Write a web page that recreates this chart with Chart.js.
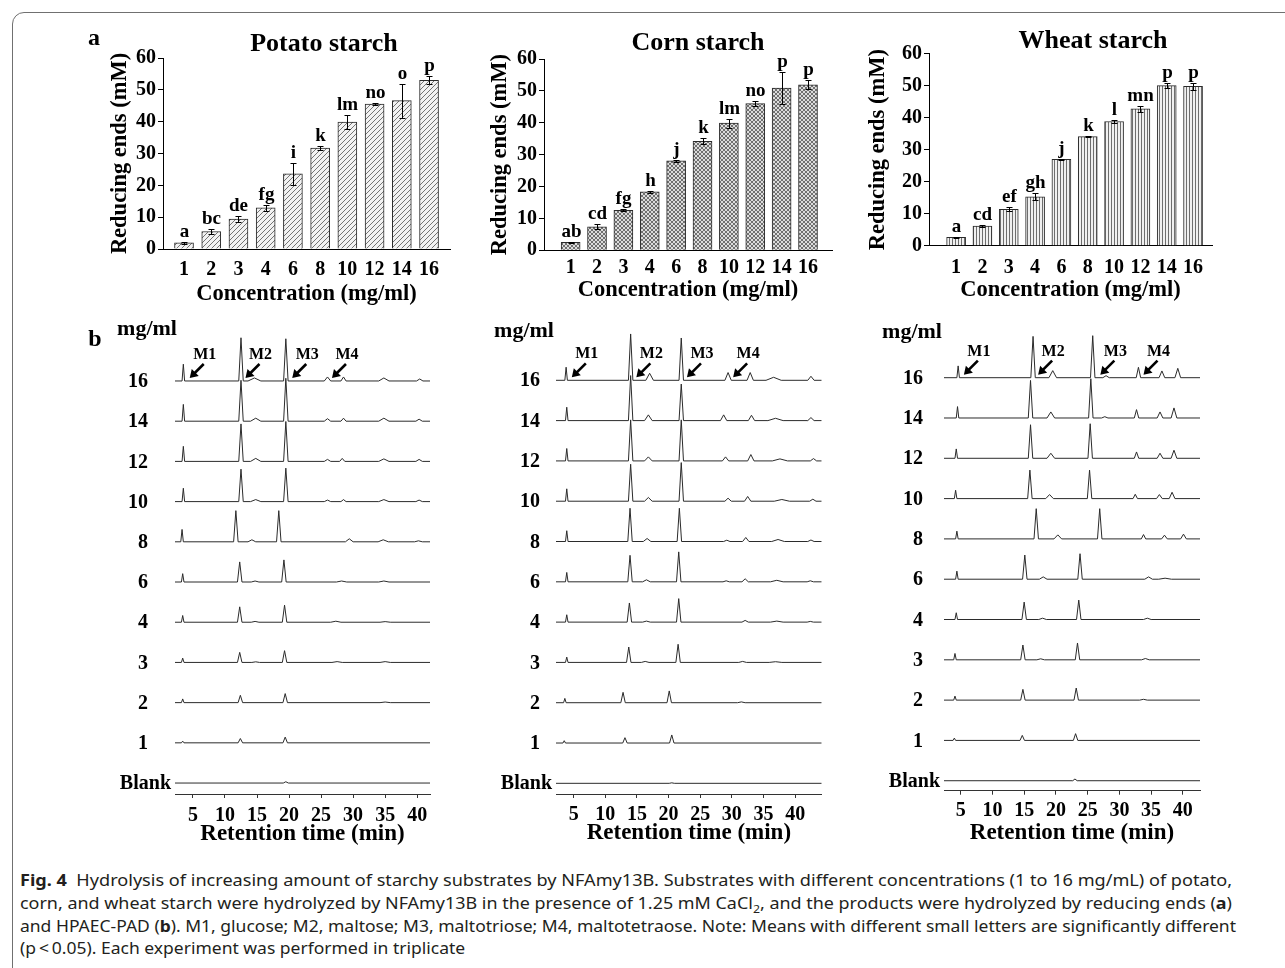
<!DOCTYPE html>
<html>
<head>
<meta charset="utf-8">
<script src="https://cdn.jsdelivr.net/npm/chart.js@4.4.0/dist/chart.umd.min.js"></script>
<style>
body{margin:0;background:#fff;width:1285px;height:968px;overflow:hidden;position:relative;font-family:'Liberation Serif','Times New Roman',serif}
#frame{position:absolute;left:12px;top:12px;width:1300px;height:1000px;border:1px solid #707070;border-top-left-radius:12px}
canvas{position:absolute}
.t{position:absolute;font-weight:bold;color:#000;transform:translate(-50%,-50%);white-space:nowrap;line-height:1}
.cap{position:absolute;left:20px;font-family:'Noto Sans',sans-serif;font-size:16px;line-height:22px;color:#231f20;white-space:nowrap;transform-origin:0 50%}
</style>
</head>
<body>
<div id="frame"></div>

<canvas id="potatoBars" width="380" height="300" style="left:80px;top:20px"></canvas>
<canvas id="cornBars" width="380" height="300" style="left:470px;top:20px"></canvas>
<canvas id="wheatBars" width="380" height="300" style="left:850px;top:20px"></canvas>
<canvas id="potatoHplc" width="370" height="540" style="left:80px;top:316px"></canvas>
<canvas id="cornHplc" width="370" height="540" style="left:470px;top:316px"></canvas>
<canvas id="wheatHplc" width="370" height="540" style="left:860px;top:316px"></canvas>

<div class="t" style="left:94px;top:37px;font-size:24px">a</div>
<div class="t" style="left:95px;top:338px;font-size:24px">b</div>
<div class="t" style="left:324px;top:43px;font-size:26px">Potato starch</div>
<div class="t" style="left:698px;top:42px;font-size:26px">Corn starch</div>
<div class="t" style="left:1093px;top:40px;font-size:26px">Wheat starch</div>
<div class="t" style="left:147px;top:328px;font-size:22px">mg/ml</div>
<div class="t" style="left:524px;top:330px;font-size:22px">mg/ml</div>
<div class="t" style="left:912px;top:331px;font-size:22px">mg/ml</div>

<div class="cap" data-w="1212" style="top:869px"><b>Fig. 4</b>&nbsp; Hydrolysis of increasing amount of starchy substrates by NFAmy13B. Substrates with different concentrations (1 to 16 mg/mL) of potato,</div>
<div class="cap" data-w="1212" style="top:892px">corn, and wheat starch were hydrolyzed by NFAmy13B in the presence of 1.25 mM CaCl<sub style="font-size:11px">2</sub>, and the products were hydrolyzed by reducing ends (<b>a</b>)</div>
<div class="cap" data-w="1216" style="top:915px">and HPAEC-PAD (<b>b</b>). M1, glucose; M2, maltose; M3, maltotriose; M4, maltotetraose. Note: Means with different small letters are significantly different</div>
<div class="cap" style="top:937px">(p&thinsp;&lt;&thinsp;0.05). Each experiment was performed in triplicate</div>

<script>
// bar data (a)
const concLabels = ['1', '2', '3', '4', '6', '8', '10', '12', '14', '16']

const potatoMeans = [1.9, 5.5, 9.4, 12.9, 23.6, 31.7, 39.9, 45.5, 46.6, 53.0]
const potatoErrs = [0.4, 0.9, 1.0, 0.9, 3.5, 0.5, 2.3, 0.4, 5.3, 1.3]
const potatoLetters = ['a', 'bc', 'de', 'fg', 'i', 'k', 'lm', 'no', 'o', 'p']

const cornMeans = [2.5, 7.4, 12.5, 18.3, 28.1, 34.2, 39.9, 46.0, 50.9, 51.9]
const cornErrs = [0.2, 0.8, 0.3, 0.4, 0.3, 1.0, 1.4, 0.7, 5.0, 1.4]
const cornLetters = ['ab', 'cd', 'fg', 'h', 'j', 'k', 'lm', 'no', 'p', 'p']

const wheatMeans = [2.6, 6.1, 11.4, 15.3, 27.0, 34.1, 38.8, 42.8, 50.0, 49.8]
const wheatErrs = [0.2, 0.3, 0.6, 1.1, 0.2, 0.2, 0.5, 1.0, 0.8, 1.2]
const wheatLetters = ['a', 'cd', 'ef', 'gh', 'j', 'k', 'l', 'mn', 'p', 'p']

// chromatograms (b): rows from Blank up to 16, peaks as [time, height, half width]
const rowNames = ['Blank', '1', '2', '3', '4', '6', '8', '10', '12', '14', '16']
const markerNames = ['M1', 'M2', 'M3', 'M4']
const rtTicks = [5, 10, 15, 20, 25, 30, 35, 40]

const potatoPeaks = [
  [[19.5, 1.3, 0.4]],
  [[3.4, 1.7, 0.2], [12.4, 4.3, 0.35], [19.4, 5.7, 0.35]],
  [[3.4, 3.7, 0.2], [12.4, 7.3, 0.35], [19.4, 9, 0.35], [35, 0.6, 0.8]],
  [[3.4, 4.3, 0.2], [12.3, 10, 0.35], [14.8, 0.6, 0.6], [19.3, 11.7, 0.35], [27.5, 0.8, 0.8], [35, 0.8, 0.8]],
  [[3.4, 6.7, 0.2], [12.3, 15.3, 0.35], [14.7, 0.8, 0.6], [19.3, 17, 0.35], [27.3, 1, 0.8], [35, 0.6, 0.8]],
  [[3.4, 8.3, 0.2], [12.3, 20, 0.35], [14.7, 1, 0.6], [19.2, 22, 0.35], [28.2, 1, 0.8], [34.8, 1, 0.8]],
  [[3.3, 12.3, 0.2], [11.7, 31, 0.35], [14.2, 2, 0.6], [18.4, 31, 0.35], [29.4, 3, 0.6], [34.7, 2, 0.8], [40.2, 1, 0.6]],
  [[3.5, 13.3, 0.2], [12.5, 32.3, 0.35], [14.8, 2, 0.8], [19.5, 33.3, 0.35], [26, 1.5, 0.5], [28.5, 2, 0.4], [34.8, 2, 0.8], [40.3, 1.5, 0.5]],
  [[3.5, 15, 0.2], [12.5, 37.3, 0.35], [14.8, 3, 0.8], [19.5, 39.7, 0.35], [26, 2, 0.5], [28.3, 3, 0.4], [34.8, 2.5, 0.8], [40.3, 2, 0.5]],
  [[3.5, 16.7, 0.2], [12.5, 40.7, 0.35], [14.8, 3, 0.8], [19.5, 42.7, 0.35], [26, 2.5, 0.5], [28.5, 3, 0.4], [34.8, 3, 0.8], [40.3, 2, 0.5]],
  [[3.5, 16.7, 0.2], [12.5, 43, 0.35], [14.6, 3, 1.0], [19.5, 42, 0.35], [26, 4, 0.5], [28.5, 4, 0.4], [34.8, 3, 0.8], [40.4, 2, 0.5]]
]

const cornPeaks = [
  [[20.5, 0.5, 0.4]],
  [[3.5, 2.3, 0.2], [13.1, 5.3, 0.35], [20.5, 8, 0.35]],
  [[3.6, 4.3, 0.2], [12.8, 10.3, 0.35], [20.1, 11.7, 0.35], [31.5, 0.8, 0.6]],
  [[3.9, 5.3, 0.2], [13.7, 15.3, 0.35], [16.3, 1, 0.6], [21.5, 18, 0.35], [31.7, 1, 0.6], [36.9, 0.7, 1.0]],
  [[3.9, 7.3, 0.2], [13.8, 19, 0.35], [16.5, 1, 0.6], [21.6, 23.3, 0.35], [32.1, 1.7, 0.5], [37.1, 1, 1.0], [42.4, 0.7, 0.5]],
  [[3.9, 9.3, 0.2], [13.9, 26.3, 0.35], [16.5, 2, 0.6], [21.6, 29.7, 0.35], [29.1, 1, 0.5], [32.1, 3, 0.5], [37.1, 1.5, 1.0], [42.4, 1, 0.5]],
  [[3.9, 10.7, 0.2], [13.9, 33, 0.35], [16.6, 3, 0.6], [21.7, 33, 0.35], [29.2, 1.3, 0.5], [32.2, 4, 0.5], [37.3, 2, 1.0], [42.5, 1.5, 0.5]],
  [[3.9, 12.3, 0.2], [14.0, 36.7, 0.35], [16.8, 3.7, 0.6], [22.0, 38.3, 0.35], [29.4, 3, 0.5], [32.5, 4.7, 0.5], [37.9, 1.7, 1.2], [42.8, 2, 0.5]],
  [[3.9, 12.3, 0.2], [14.0, 40.7, 0.35], [16.8, 4, 0.6], [22.0, 40.7, 0.35], [29.0, 4, 0.5], [33.0, 6.3, 0.5], [37.6, 2, 1.2], [42.9, 2.3, 0.5]],
  [[3.9, 13.3, 0.2], [14.0, 44.7, 0.35], [16.8, 5.7, 0.6], [22.0, 36.3, 0.35], [28.7, 5.7, 0.5], [33.1, 5.3, 0.5], [36.9, 2.3, 1.2], [42.5, 3, 0.5]],
  [[3.8, 13, 0.2], [14.0, 46, 0.35], [17.0, 7, 0.6], [22.0, 42, 0.35], [29.4, 7.7, 0.5], [32.9, 7.7, 0.5], [36.6, 3, 1.2], [42.5, 4, 0.5]]
]

const wheatPeaks = [
  [[23.0, 1.7, 0.35]],
  [[4.0, 2.3, 0.2], [14.7, 5, 0.35], [23.1, 6.7, 0.35]],
  [[4.1, 4, 0.2], [14.8, 10.7, 0.35], [23.2, 12, 0.35], [33.8, 0.8, 0.6]],
  [[4.1, 6.3, 0.2], [14.8, 14.7, 0.35], [17.6, 1, 0.6], [23.4, 16.7, 0.35], [34.1, 1.3, 0.6]],
  [[4.3, 6.7, 0.2], [15.0, 17.3, 0.35], [17.9, 1.3, 0.6], [23.6, 19.3, 0.35], [34.4, 1.3, 0.6]],
  [[4.4, 8, 0.2], [15.1, 24, 0.35], [18.0, 2.3, 0.6], [23.8, 25.3, 0.35], [34.6, 2.3, 0.6], [37.2, 1, 1.0]],
  [[4.4, 7.7, 0.2], [16.9, 30, 0.35], [20.3, 4, 0.6], [26.9, 30, 0.35], [33.8, 4.3, 0.35], [37.1, 3.7, 0.45], [40.1, 4.7, 0.45]],
  [[4.2, 8.3, 0.2], [15.9, 28.3, 0.35], [19.0, 4, 0.6], [25.3, 28.3, 0.35], [32.5, 4.3, 0.35], [36.3, 4, 0.45], [38.3, 6.3, 0.45]],
  [[4.3, 9.3, 0.2], [16.0, 33.3, 0.35], [19.2, 5, 0.6], [25.4, 34.3, 0.35], [32.7, 6.3, 0.35], [36.4, 5, 0.45], [38.6, 8, 0.45]],
  [[4.5, 11.3, 0.2], [16.0, 37.3, 0.35], [19.2, 6, 0.6], [25.5, 39, 0.35], [27.7, 1.3, 0.5], [32.7, 8.3, 0.35], [36.4, 6, 0.45], [38.6, 10, 0.45]],
  [[4.6, 11.7, 0.2], [16.4, 41, 0.35], [19.5, 7, 0.6], [25.8, 41.7, 0.35], [27.9, 2, 0.5], [33.0, 10.3, 0.35], [36.7, 6.7, 0.45], [39.2, 9.3, 0.45]]
]

// where the M1-M4 arrows point (retention time, on the 16 mg/ml trace)
const potatoArrows = [4.5, 13.2, 20.5, 26.7]
const cornArrows = [4.7, 14.9, 22.9, 30.2]
const wheatArrows = [5.5, 17.2, 27.0, 33.8]

const serif = "'Liberation Serif', 'Times New Roman', serif"
const rowStep = 40

// hatch fills
function makePattern(kind) {
  let c = document.createElement('canvas')
  let g = c.getContext('2d')
  if (kind == 'diag') {
    c.width = 5; c.height = 5
    g.fillStyle = '#f2f2f2'; g.fillRect(0, 0, 5, 5)
    g.fillStyle = '#747474'
    for (let i = 0; i < 5; i++) g.fillRect(i, 4 - i, 1, 1)
  } else if (kind == 'cross') {
    c.width = 4; c.height = 4
    g.fillStyle = '#dcdcdc'; g.fillRect(0, 0, 4, 4)
    g.fillStyle = '#707070'
    for (let i = 0; i < 4; i++) { g.fillRect(i, i, 1, 1); g.fillRect(3 - i, i, 1, 1) }
  } else {
    c.width = 3; c.height = 1
    g.fillStyle = '#f0f0f0'; g.fillRect(0, 0, 3, 1)
    g.fillStyle = '#6e6e6e'; g.fillRect(0, 0, 1, 1)
  }
  return document.createElement('canvas').getContext('2d').createPattern(c, 'repeat')
}

// error bars + letters
const barExtras = {
  id: 'barExtras',
  afterDatasetsDraw(chart, args, o) {
    const {ctx, scales: {x, y}} = chart
    ctx.save()
    ctx.strokeStyle = '#000'
    ctx.lineWidth = 1
    ctx.fillStyle = '#000'
    ctx.font = 'bold 19px ' + serif
    ctx.textAlign = 'center'
    ctx.textBaseline = 'alphabetic'
    chart.data.datasets[0].data.forEach((d, i) => {
      let px = Math.round(x.getPixelForValue(d.x)) + 0.5
      let top = Math.round(y.getPixelForValue(d.y + o.errs[i])) + 0.5
      let bot = Math.round(y.getPixelForValue(d.y - o.errs[i])) + 0.5
      ctx.beginPath()
      ctx.moveTo(px, top); ctx.lineTo(px, bot)
      ctx.moveTo(px - 3, top); ctx.lineTo(px + 3, top)
      ctx.moveTo(px - 3, bot); ctx.lineTo(px + 3, bot)
      ctx.stroke()
      ctx.fillText(o.letters[i], px, top - 6)
    })
    ctx.restore()
  }
}

function barChart(id, means, errs, letters, fill, b) {
  new Chart(document.getElementById(id), {
    type: 'bar',
    data: {
      datasets: [{
        data: means.map((v, i) => ({x: i, y: v})),
        backgroundColor: fill,
        borderColor: '#2a2a2a',
        borderWidth: 1,
        barThickness: 19
      }]
    },
    options: {
      responsive: false,
      animation: false,
      devicePixelRatio: 1,
      layout: {padding: {left: 0, top: b.top, right: b.right, bottom: 0}},
      plugins: {legend: {display: false}, tooltip: {enabled: false}, barExtras: {errs: errs, letters: letters}},
      scales: {
        x: {
          type: 'linear', offset: false, min: b.xMin, max: b.xMax,
          afterBuildTicks: s => { s.ticks = concLabels.map((c, i) => ({value: i})) },
          afterFit: s => { s.height = b.xH },
          ticks: {callback: v => concLabels[v], color: '#000', font: {family: serif, size: 20, weight: 'bold'}, padding: b.tickPad, maxRotation: 0, autoSkip: false},
          grid: {display: false, drawTicks: false},
          border: {color: '#000', width: 1},
          title: {display: true, text: 'Concentration (mg/ml)', color: '#000', font: {family: serif, size: 22.5, weight: 'bold'}, padding: {top: 0, bottom: b.xTitlePad}}
        },
        y: {
          min: 0, max: 60,
          afterFit: s => { s.width = b.yW },
          ticks: {stepSize: 10, color: '#000', font: {family: serif, size: 20, weight: 'bold'}, padding: 2},
          grid: {drawOnChartArea: false, tickLength: 5, color: '#000'},
          border: {color: '#000', width: 1},
          title: {display: true, text: 'Reducing ends (mM)', color: '#000', font: {family: serif, size: 22.5, weight: 'bold'}, padding: {top: b.yTitlePad, bottom: 0}}
        }
      }
    },
    plugins: [barExtras]
  })
}

barChart('potatoBars', potatoMeans, potatoErrs, potatoLetters, makePattern('diag'),
  {top: 38, right: 10, yW: 83, xH: 71, xMin: -0.772, xMax: 9.77, tickPad: 9, xTitlePad: 12.5, yTitlePad: 26.5})
barChart('cornBars', cornMeans, cornErrs, cornLetters, makePattern('cross'),
  {top: 39, right: 18, yW: 74, xH: 69.7, xMin: -1.01, xMax: 9.91, tickPad: 6, xTitlePad: 16.5, yTitlePad: 16.5})
barChart('wheatBars', wheatMeans, wheatErrs, wheatLetters, makePattern('vert'),
  {top: 33.7, right: 18, yW: 79, xH: 74.3, xMin: -1.03, xMax: 9.72, tickPad: 10, xTitlePad: 16.5, yTitlePad: 14.5})

// row labels + arrows for the chromatograms
const hplcExtras = {
  id: 'hplcExtras',
  afterDatasetsDraw(chart, args, o) {
    const {ctx, chartArea, scales: {x, y}} = chart
    ctx.save()
    ctx.fillStyle = '#000'
    ctx.strokeStyle = '#000'
    ctx.font = 'bold 20px ' + serif
    ctx.textAlign = 'right'
    ctx.textBaseline = 'middle'
    rowNames.forEach((n, r) => {
      let py = y.getPixelForValue(r * rowStep)
      ctx.fillText(n, chartArea.left - (n == 'Blank' ? 4 : o.labelGap), py + 1)
    })
    let base = y.getPixelForValue((rowNames.length - 1) * rowStep)
    ctx.font = 'bold 16px ' + serif
    ctx.textAlign = 'center'
    o.arrows.forEach((t, i) => {
      let px = x.getPixelForValue(t)
      let tipY = base - 3
      ctx.lineWidth = 2.6
      ctx.beginPath()
      ctx.moveTo(px + 4, tipY - 4)
      ctx.lineTo(px + 14, tipY - 14)
      ctx.stroke()
      ctx.beginPath()
      ctx.moveTo(px, tipY)
      ctx.lineTo(px + 9, tipY - 2)
      ctx.lineTo(px + 2, tipY - 9)
      ctx.closePath()
      ctx.fill()
      ctx.fillText(markerNames[i], px + 15, base - 26)
    })
    ctx.restore()
  }
}

function hplcChart(id, peaks, arrows, b) {
  let datasets = peaks.map((row, r) => {
    let base = r * rowStep
    let pts = [{x: b.xMin, y: base}]
    row.slice().sort((p, q) => p[0] - q[0]).forEach(([t, h, w]) => {
      pts.push({x: t - w, y: base}, {x: t, y: base + h}, {x: t + w, y: base})
    })
    pts.push({x: b.xMax, y: base})
    return {data: pts, borderColor: '#2b2b2b', borderWidth: 1, pointRadius: 0, tension: 0, fill: false}
  })
  new Chart(document.getElementById(id), {
    type: 'line',
    data: {datasets: datasets},
    options: {
      responsive: false,
      animation: false,
      devicePixelRatio: 1,
      layout: {padding: {left: b.left, top: 10, right: b.right, bottom: 0}},
      plugins: {legend: {display: false}, tooltip: {enabled: false}, hplcExtras: {arrows: arrows, labelGap: b.labelGap}},
      scales: {
        x: {
          type: 'linear', min: b.xMin, max: b.xMax,
          afterBuildTicks: s => { s.ticks = rtTicks.map(v => ({value: v})) },
          afterFit: s => { s.height = b.xH },
          ticks: {color: '#000', font: {family: serif, size: 20, weight: 'bold'}, padding: b.tickPad, maxRotation: 0, autoSkip: false},
          grid: {drawOnChartArea: false, tickLength: 4, color: '#333'},
          border: {color: '#333', width: 1},
          title: {display: true, text: 'Retention time (min)', color: '#000', font: {family: serif, size: 23, weight: 'bold'}, padding: {top: 0, bottom: b.xTitlePad}}
        },
        y: {display: false, min: b.yMin, max: b.yMax}
      }
    },
    plugins: [hplcExtras]
  })
}

hplcChart('potatoHplc', potatoPeaks, potatoArrows,
  {left: 95, right: 20, xH: 62, xMin: 2.2, xMax: 42.0, yMin: -10.9, yMax: 454.7, tickPad: 6, xTitlePad: 8, labelGap: 27})
hplcChart('cornHplc', cornPeaks, cornArrows,
  {left: 86, right: 18.3, xH: 62, xMin: 2.2, xMax: 44.2, yMin: -10.6, yMax: 453.9, tickPad: 4.5, xTitlePad: 9.5, labelGap: 16})
hplcChart('wheatHplc', wheatPeaks, wheatArrows,
  {left: 84, right: 30, xH: 65.3, xMin: 2.37, xMax: 42.7, yMin: -9.9, yMax: 451.3, tickPad: 4.5, xTitlePad: 9.5, labelGap: 21})

// squeeze caption lines to the original widths (last line uses the same squeeze)
let squeeze = 1
document.querySelectorAll('.cap').forEach(el => {
  el.style.display = 'inline-block'
  let w = el.getBoundingClientRect().width
  if (el.dataset.w) squeeze = el.dataset.w / w
  el.style.transform = 'scaleX(' + squeeze + ')'
})
</script>
</body>
</html>
